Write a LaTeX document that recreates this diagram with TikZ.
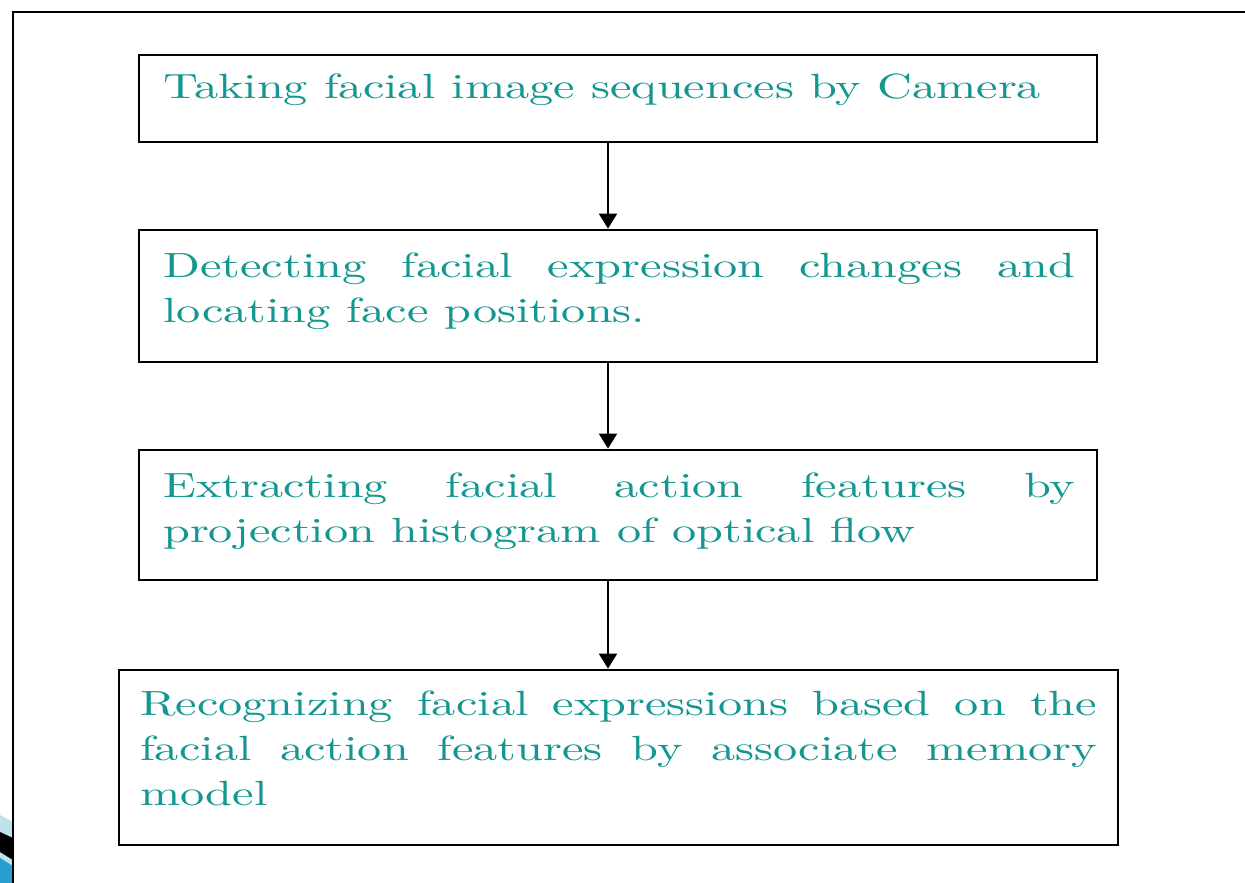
\documentclass[tikz,border=0pt]{standalone}
\usepackage{fontspec}
\setmainfont{lmroman10-regular}[Extension=.otf, FakeStretch=1.38]
\usetikzlibrary{arrows.meta}
\definecolor{tealtext}{RGB}{20,150,145}
\definecolor{decolight}{RGB}{190,225,235}
\definecolor{decoblue}{RGB}{40,160,205}
\hyphenpenalty=10000
\exhyphenpenalty=10000
\tolerance=10000
\newcommand{\stepfont}{\fontsize{35}{45}\selectfont}
\tikzset{
  stepbox/.style={draw=black, line width=2.8pt, inner sep=0pt},
  steptext/.style={text=tealtext, inner sep=0pt, anchor=base west, font=\stepfont},
  flow/.style={line width=2.2pt, -{Triangle[length=15pt,width=18pt]}},
  frame/.style={line width=2.4pt, draw=black}
}
\begin{document}
\begin{tikzpicture}[x=1pt,y=-1pt]
\useasboundingbox (0,0) rectangle (1245,883);
% slide decoration bottom-left
\fill[decolight] (0,815) -- (13,822) -- (13,883) -- (0,883) -- cycle;
\fill[black] (0,832) -- (13,838) -- (13,860) -- (0,852) -- cycle;
\fill[decoblue] (0,858) -- (13,866) -- (13,883) -- (0,883) -- cycle;
% outer frame
\draw[frame] (13,883) -- (13,12) -- (1245,12);
% boxes
\node[stepbox, minimum width=958pt, minimum height=87pt] (b1) at (618,98.5) {};
\node[stepbox, minimum width=958pt, minimum height=132pt] (b2) at (618,296) {};
\node[stepbox, minimum width=958pt, minimum height=130pt] (b3) at (618,515) {};
\node[stepbox, minimum width=999pt, minimum height=175pt] (b4) at (618.5,757.5) {};
% texts
\node[steptext] (t1) at (163,98) {Taking facial image sequences by Camera};
\node[steptext, text width=912pt, align=justify] (t2) at (163,277) {Detecting facial expression changes and\linebreak locating face positions.};
\node[steptext, text width=912pt, align=justify] (t3) at (163,497) {Extracting facial action features by\linebreak projection histogram of optical flow};
\node[steptext, text width=957pt, align=justify] (t4) at (140,715) {Recognizing facial expressions based on the\linebreak facial action features by associate memory\linebreak model};
% connectors
\coordinate (ax) at (608,0);
\draw[flow] (b1.south -| ax) -- (b2.north -| ax);
\draw[flow] (b2.south -| ax) -- (b3.north -| ax);
\draw[flow] (b3.south -| ax) -- (b4.north -| ax);
\end{tikzpicture}
\end{document}
